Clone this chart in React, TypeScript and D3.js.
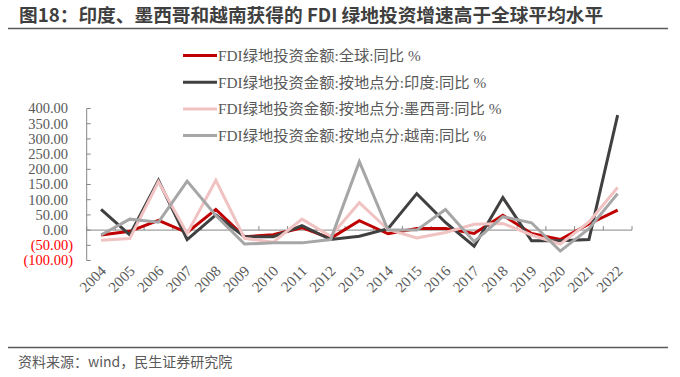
import React from "react";
import * as d3 from "d3";

const years = ["2004","2005","2006","2007","2008","2009","2010","2011","2012","2013","2014","2015","2016","2017","2018","2019","2020","2021","2022"];
const globalYoY = [-16, -4, 32, -8, 68, -22, -15, 8, -27, 31, -12, 5, 5, -11, 49, -11, -31, 20, 66];
const indiaYoY = [68, -16, 164, -31, 50, -22, -22, 15, -31, -20, 5, 120, 25, -53, 107, -35, -35, -31, 378];
const mexicoYoY = [-33, -28, 159, -11, 164, -27, -40, 36, -20, 90, 2, -26, -8, 19, 22, -16, -46, 27, 140];
const vietnamYoY = [-16, 36, 26, 161, 48, -46, -42, -42, -31, 225, 0, 0, 68, -38, 44, 24, -69, 5, 120];
const yTicks = [400, 350, 300, 250, 200, 150, 100, 50, 0, -50, -100];

const seriesNames = [
  "FDI绿地投资金额:全球:同比 %",
  "FDI绿地投资金额:按地点分:印度:同比 %",
  "FDI绿地投资金额:按地点分:墨西哥:同比 %",
  "FDI绿地投资金额:按地点分:越南:同比 %",
];
const seriesColors = ["#C00000", "#404040", "#F0C2C2", "#A6A6A6"];
const seriesData = [globalYoY, indiaYoY, mexicoYoY, vietnamYoY];

const title = "图18：印度、墨西哥和越南获得的 FDI 绿地投资增速高于全球平均水平";
const source = "资料来源：wind，民生证券研究院";

const serif = "'Liberation Serif', 'Times New Roman', 'Noto Sans CJK SC', serif";
const sans = "'Noto Sans CJK SC', 'Noto Sans', sans-serif";

export default function App() {
  const W = 680, H = 377;
  const x = d3.scaleBand<string>().domain(years).range([86.7, 632]);
  const y = d3.scaleLinear().domain([-100, 400]).range([260.5, 108.5]);
  const cx = (yr: string) => (x(yr) as number) + x.bandwidth() / 2;
  const line = d3.line<number>().x((_, i) => cx(years[i])).y((d) => y(d));
  const fmt = (v: number) => (v < 0 ? `(${Math.abs(v).toFixed(2)})` : v.toFixed(2));
  const axisColor = "#868686";
  const textColor = "#595959";
  const boundaries = years.map((yr) => x(yr) as number).concat([632]);

  return (
    <div style={{ position: "absolute", left: 0, top: 0 }}>
      <svg width={W} height={H} style={{ display: "block", background: "#fff" }}>
        <text x={19} y={22} fontFamily={sans} fontWeight="bold" fontSize={18.7} fill="#3F3F3F">{title}</text>
        <line x1={8} x2={668} y1={28.5} y2={28.5} stroke="#5a5a5a" strokeWidth={1.5} />

        {/* legend */}
        {seriesNames.map((n, i) => {
          const ly = 55.5 + i * 26.7;
          return (
            <g key={n}>
              <line x1={183} x2={217} y1={ly} y2={ly} stroke={seriesColors[i]} strokeWidth={3} />
              <text x={218} y={ly + 5.5} fontFamily={serif} fontSize={15.3} fill={textColor}>{n}</text>
            </g>
          );
        })}

        {/* y axis */}
        <line x1={86.7} x2={86.7} y1={y(400)} y2={y(-100)} stroke={axisColor} strokeWidth={1} />
        {yTicks.map((t) => (
          <g key={t}>
            <line x1={86.7} x2={90.7} y1={y(t)} y2={y(t)} stroke={axisColor} strokeWidth={1} />
            <text
              x={t < 0 ? 73 : 68}
              y={y(t) + 4.8}
              textAnchor="end"
              fontFamily={serif}
              fontSize={14.5}
              fill={t < 0 ? "#FF0000" : textColor}
            >
              {fmt(t)}
            </text>
          </g>
        ))}

        {/* x axis at zero */}
        <line x1={86.7} x2={632} y1={y(0)} y2={y(0)} stroke={axisColor} strokeWidth={1} />
        {boundaries.map((b, i) => (
          <line key={i} x1={b} x2={b} y1={y(0) - 4} y2={y(0)} stroke={axisColor} strokeWidth={1} />
        ))}
        {years.map((yr) => (
          <text
            key={yr}
            transform={`translate(${cx(yr) + 6},${272}) rotate(-45)`}
            textAnchor="end"
            fontFamily={serif}
            fontSize={15}
            fill={textColor}
          >
            {yr}
          </text>
        ))}

        {/* series */}
        {seriesData.map((s, i) => (
          <path
            key={i}
            d={line(s) as string}
            fill="none"
            stroke={seriesColors[i]}
            strokeWidth={3}
            strokeLinejoin="miter"
            strokeMiterlimit={4}
          />
        ))}

        <line x1={8} x2={668} y1={347.5} y2={347.5} stroke="#5a5a5a" strokeWidth={1.5} />
        <text x={18} y={367} fontFamily={sans} fontSize={14} fill={textColor}>{source}</text>
      </svg>
    </div>
  );
}
